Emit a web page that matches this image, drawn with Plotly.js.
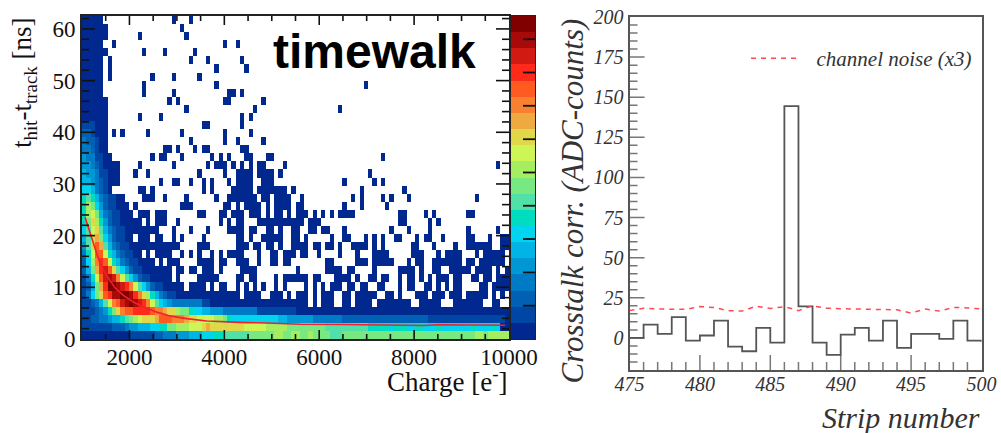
<!DOCTYPE html>
<html><head><meta charset="utf-8">
<script src="https://cdn.plot.ly/plotly-3.0.1.min.js"></script>
<style>html,body{margin:0;padding:0;background:#fff}#c{width:1001px;height:433px}</style></head>
<body><div id="c"></div>
<script>
// Colour levels of the left panel, darkest blue (0) to dark red (19)
const levelColors = ["#00288f","#0046a4","#0060b4","#007ac4","#0098d4","#00b4e6","#00d4ee","#00dcc0","#50e0a8","#78e880",
  "#a4ee60","#ccf555","#e0d848","#eeaa40","#f88030","#ff5a20","#ff2a1a","#d01a12","#a80a0a","#800000"];
// Occupied bins per row (top row first), bin index ranges; level 0 unless rampRows says otherwise
const hitRows = [
"0-4 21 25","0-5 23","0-5 13 24","0-4 7 33 36","0-5 14 19 26","0-4 6 25 29 37","0-4 6 31 38","0-4 6 16 21 27",
"0-4 14 31 66","0-4 14 21 34-35 37","0-5 20 22 33-34 42","0-5 24 40 60","0-5 13 18 37 39","0-5 28-29 37",
"0-5 7 9 15 23 33 39","0-5 25 33 36 42","0-5 19-20 22 26 28-29 37-38",
"0-6 16 18-19 23 30 32 34 38-39 43-44 70",
"0-8 13 21 29 31-33 35 37 39 41-42 47 97",
"0-8 12 15 27 33 36-39 41-44 46 67",
"0-8 18 21-22 25 28 30 34 36-39 42-44 61 68 70",
"0-6 13-14 16 28 30 35-39 41-47 49 65 75",
"0-9 14-16 19 24 31 34-40 42-43 45-48 51 63 65 70 72 76 92",
"0-10 12 23-25 33-34 36 38-41 43 45-48 50-51 61 65 71",
"0-11 13-15 17-19 27-28 32-33 35-37 39-41 43 45-46 48 50-52 54 56 58 60-63 74-75 80 82 90-91",
"0-13 15 17-19 22 32 34 36-37 41-51 53-55 74-75 81 83",
"0-17 21 25 29 34-37 39-40 43-44 46 49-50 53-54 56-57 61 72 76 81 90 97",
"0-11 13-15 17-18 21 23 28 36-37 39 42-46 49-50 52 58 61-62 66 68 70 73-74 78 80-81 84 90-91 95 98-99",
"0-22 27-29 36-38 40-41 43-44 46 49-52 54-55 57-58 60 63-66 68 70 77-78 82 87 90-95 98-99",
"0-13 15 17-20 23 25 27 30 32 34-37 41 44-45 47-49 51-52 55 60 64 68-71 77-79 83 85-88 92 94-98",
"0-16 18 20-22 27-30 32-33 36-38 41 44-45 47-48 57-58 64-66 68-72 76 78-79 82-88 90-91 93-98",
"0-20 22-23 25-26 28-30 32 37-40 50 57-60 62-63 68 74-77 79 82-83 86-90 92-95 97 99",
"0-20 22 27-31 36-37 39-40 45 47-50 51-52 54-55 59-62 64 67-68 70-71 74 76-77 79 81 83-85 87-88 91-92 94-95 97-99",
"0-23 25-28 30 32-33 36 38 40 42 45 47 52 54 56 58-60 62-63 65-66 69-70 74 76-77 80-81 83 85 87-88 93-94 96-99",
"0-36 38-41 44-46 48 50-52 54 56-58 61-62 64-68 71-72 74 78-80 82-84 86-88 90-94 96 98",
"0-52 54 56-58 61-62 64-67 69-76 79-83 87-93 96-97",
"0-99","0-99","0-99","0-99"];
// Colour level of the first bins in each row (base-20 digits, top row first)
const rampRows = ["","","","","","","","","","","","","","111","221","3221","3321","43311","44321","544311","554321","665321",
"78753211","7a964211","7ab953211","79ca74211","68bc853211","58cd964211","48cfd853211","37bffb753211","26aegfb753211",
"259dghfc864211","137bfhiheb864211","1259dgjjihgeb864211","1369cfgiijjigeca753211","112358befhijihgeb8654333333311",
"11123479ceffggggfeedcca997665544433333333111111111",
"112233455789abcccdfffeeedccbbbbaa976666666666655444444333333322222222222222222222111111111111111111",
"1111111222344555667799aaabbbcdccccccccbbbbbaaaaa99999999988888888887777767776677666766666667666676",
"000000000001111112233344455566677888888999999aa99aa99a99998889999999999999999999999999999999aa9aaaaa"];
const charge0 = 1000, chargeStep = 90, time0 = 0, timeStep = 1.5625;
// Fitted time-walk curve
const fitCharge = [1063,1169,1274,1379,1520,1696,1871,2082,2293,2575,2855,3207,3629,4050,4472,4894,5596,6500,7000,7500,8000,8200,8500,9000,9500,9920];
const fitTime   = [23.6,20.7,17.8,14.6,12.3,9.9,8.45,7.16,6.2,5.2,4.45,3.94,3.48,3.3,3.17,3.1,2.84,2.8,2.75,2.7,2.75,2.6,2.75,2.7,2.65,2.65];
// Right panel
const stripEdges = [475,476,477,478,479,480,481,482,483,484,485,486,487,488,489,490,491,492,493,494,495,496,497,498,499,500];
const crosstalk  = [0,8.3,2.5,13,-1.7,1.5,10.8,-5.4,-8.3,6.2,-3,144.5,19.6,-3,-10.6,2,6.2,-1.7,10.8,-6.2,2.5,2.5,-0.6,10.8,-1.7,-2.5];
const noise      = [17,18.5,18,18,17.8,19.5,19,17,16.7,19.8,18.3,19.5,17,20,18.5,18.2,18,18.2,18,17.5,15.5,18,16.7,19,18.7,18];
// Tick values
const stripTicks = [475,480,485,490,495,500];
const adcTicks   = [0,25,50,75,100,125,150,175,200];
const chargeMajor = [2000,4000,6000,8000];
const chargeMinor = [1500,2500,3000,3500,4500,5000,5500,6500,7000,7500,8500,9000,9500];
const timeMajor = [10,20,30,40,50,60];
const timeMinor = [2,4,6,8,12,14,16,18,22,24,26,28,32,34,36,38,42,44,46,48,52,54,56,58,62];
const stripMajor = [480,485,490,495];
const stripMinor = [476,477,478,479,481,482,483,484,486,487,488,489,491,492,493,494,496,497,498,499];
const adcMajor = [0,25,50,75,100,125,150,175];
const adcMinor = [-15,-10,-5,5,10,15,20,30,35,40,45,55,60,65,70,80,85,90,95,105,110,115,120,130,135,140,145,155,160,165,170,180,185,190,195];
const barTicks = [2.06,4.12,6.19,8.25,10.31,12.37,14.44,16.5,18.56];

const W=1001,H=433,serif='"Liberation Serif",serif';
const digits="0123456789abcdefghij";
const rows=hitRows.map((h,r)=>{
  const a=new Array(100).fill(null);
  h.split(" ").forEach(t=>{const p=t.split("-").map(Number);for(let c=p[0];c<=(p.length>1?p[1]:p[0]);c++)a[c]=0.5;});
  [...rampRows[r]].slice(0,100).forEach((ch,c)=>{a[c]=digits.indexOf(ch)+0.5;});
  return a;
}).reverse();
const colorscale=[];levelColors.forEach((c,i)=>{colorscale.push([i/20,c],[(i+1)/20,c]);});
const ital=v=>v.map(t=>"<i>"+t+"</i>");

// Tick marks as line traces, drawn through each panel's own axes
function tickSet(){const s={x:[],y:[]};
  s.vert=(vals,a,b)=>{vals.forEach(v=>{s.x.push(v,v,null);s.y.push(a,b,null);});};
  s.horiz=(vals,a,b)=>{vals.forEach(v=>{s.y.push(v,v,null);s.x.push(a,b,null);});};
  return s;}
const leftTicks=tickSet();
leftTicks.vert(chargeMajor,0,1.74);leftTicks.vert(chargeMajor,62.5,60.76);
leftTicks.vert(chargeMinor,0,0.97);leftTicks.vert(chargeMinor,62.5,61.53);
leftTicks.horiz(timeMajor,1000,1274);leftTicks.horiz(timeMajor,10000,9726);
leftTicks.horiz(timeMinor,1000,1148);leftTicks.horiz(timeMinor,10000,9852);
const rightTicks=tickSet();
rightTicks.vert(stripMajor,-20,-10.65);rightTicks.vert(stripMinor,-20,-15);
rightTicks.horiz(adcMajor,475,476.07);rightTicks.horiz(adcMinor,475,475.57);
const scaleTicks=tickSet();
scaleTicks.horiz(barTicks,0.5,1);

const traces=[
 {type:"heatmap",z:rows,x0:charge0+chargeStep/2,dx:chargeStep,y0:time0+timeStep/2,dy:timeStep,xaxis:"x",yaxis:"y",
  zmin:0,zmax:20,colorscale,showscale:false,showlegend:false},
 {type:"heatmap",z:levelColors.map((c,i)=>[i+0.5]),x0:0.5,dx:1,y0:0.5,dy:1,xaxis:"x3",yaxis:"y3",
  zmin:0,zmax:20,colorscale,showscale:false,showlegend:false},
 {type:"scatter",mode:"lines",x:fitCharge,y:fitTime,xaxis:"x",yaxis:"y",line:{color:"#f02030",width:1.6},showlegend:false},
 {type:"scatter",mode:"lines",x:leftTicks.x,y:leftTicks.y,xaxis:"x",yaxis:"y",line:{color:"#111",width:1.6},showlegend:false},
 {type:"scatter",mode:"lines",x:scaleTicks.x,y:scaleTicks.y,xaxis:"x3",yaxis:"y3",line:{color:"#111",width:1.8},showlegend:false},
 {type:"scatter",mode:"lines",x:rightTicks.x,y:rightTicks.y,xaxis:"x2",yaxis:"y2",line:{color:"#777",width:1.5},showlegend:false},
 {type:"scatter",mode:"lines",x:stripEdges,y:crosstalk,xaxis:"x2",yaxis:"y2",line:{color:"#555",width:1.8,shape:"hv"},showlegend:false},
 {type:"scatter",mode:"lines",x:stripEdges,y:noise,xaxis:"x2",yaxis:"y2",name:"\u00a0\u00a0channel noise (x3)",line:{color:"#ff4a55",width:1.5,dash:"5px,5px"},showlegend:true}
];
const tf={family:serif,size:23,color:"#111"};
const tfr={family:serif,size:20,color:"#333"};
const layout={
 width:W,height:H,margin:{l:0,r:0,t:0,b:0},
 xaxis:{domain:[82/W,509/W],range:[1000,10000],anchor:"y",tick0:2000,dtick:2000,ticks:"",showline:true,linecolor:"#222",linewidth:2,mirror:true,showgrid:false,zeroline:false,
   tickfont:tf,tickformat:"d",ticklabelstandoff:-4},
 yaxis:{domain:[1-339/H,1-16/H],range:[0,62.5],anchor:"x",tick0:0,dtick:10,ticks:"",showline:true,linecolor:"#222",linewidth:2,mirror:true,showgrid:false,zeroline:false,
   tickfont:tf},
 xaxis2:{domain:[629.5/W,981.5/W],range:[475,500],anchor:"y2",tickmode:"array",tickvals:stripTicks,ticktext:ital(stripTicks),ticks:"",showline:true,linecolor:"#555",linewidth:2,mirror:true,showgrid:false,zeroline:false,
   tickfont:tfr,ticklabelstandoff:-5},
 yaxis2:{domain:[1-370/H,1-17/H],range:[-20,200],anchor:"x2",tickmode:"array",tickvals:adcTicks,ticktext:ital(adcTicks),ticks:"",showline:true,linecolor:"#555",linewidth:2,mirror:true,showgrid:false,zeroline:false,
   tickfont:tfr},
 xaxis3:{domain:[511/W,535/W],range:[0,1],anchor:"y3",showticklabels:false,ticks:"",showline:true,linecolor:"#222",linewidth:1,mirror:true,showgrid:false,zeroline:false},
 yaxis3:{domain:[1-339/H,1-16/H],range:[0,20],anchor:"x3",showticklabels:false,ticks:"",showline:true,linecolor:"#222",linewidth:1,mirror:true,showgrid:false,zeroline:false},
 showlegend:true,
 legend:{x:746/W,xanchor:"left",y:1-38/H,yanchor:"top",bgcolor:"rgba(0,0,0,0)",borderwidth:0,itemwidth:50,font:{family:serif,size:21,color:"#333",style:"italic"}},
 annotations:[
  {text:"timewalk",xref:"paper",yref:"paper",x:374/W,y:1-52/H,xanchor:"center",yanchor:"middle",showarrow:false,font:{family:'"Liberation Sans",sans-serif',size:48,weight:700,color:"#000"}},
  {text:"t<sub>hit</sub>-t<sub>track</sub> [ns]",xref:"paper",yref:"paper",x:24/W,y:1-16/H,xanchor:"center",yanchor:"top",textangle:-90,showarrow:false,font:{family:serif,size:27,color:"#111"}},
  {text:"Charge [e<sup>-</sup>]",xref:"paper",yref:"paper",x:510/W,y:1-380/H,xanchor:"right",yanchor:"middle",showarrow:false,font:{family:serif,size:27,color:"#111"}},
  {text:"Crosstalk corr. (ADC-counts)",xref:"paper",yref:"paper",x:572/W,y:1-17/H,xanchor:"center",yanchor:"top",textangle:-90,showarrow:false,font:{family:serif,size:31,color:"#333",style:"italic"}},
  {text:"Strip number",xref:"paper",yref:"paper",x:982/W,y:1-417/H,xanchor:"right",yanchor:"middle",showarrow:false,font:{family:serif,size:30,color:"#333",style:"italic"}}
 ]
};
Plotly.newPlot("c",traces,layout,{staticPlot:true});
</script></body></html>
